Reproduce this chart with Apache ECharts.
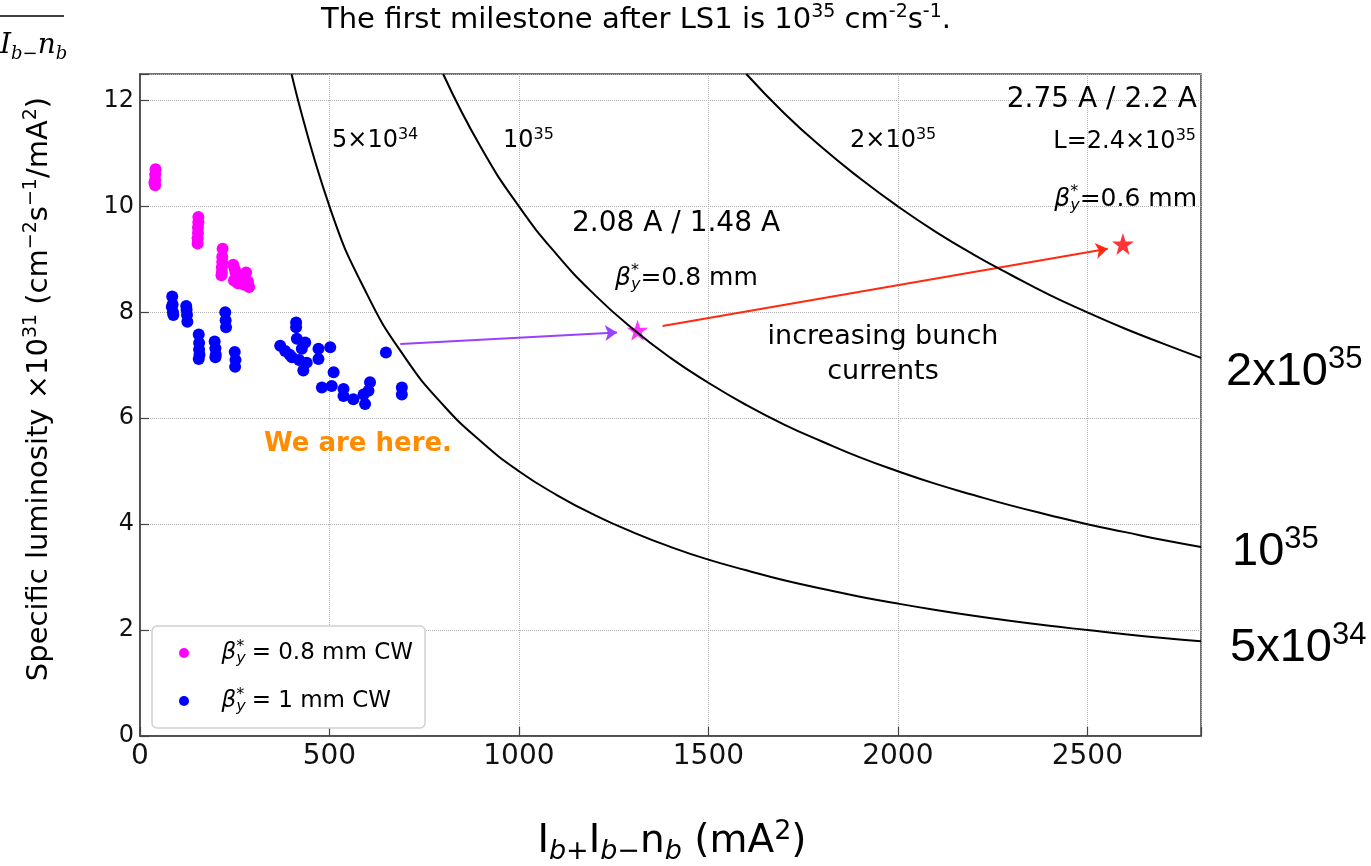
<!DOCTYPE html>
<html>
<head>
<meta charset="utf-8">
<script src="https://cdn.jsdelivr.net/npm/echarts@6/dist/echarts.min.js"></script>
<style>
html, body { margin: 0; padding: 0; background: #fff; }
#chart { width: 1371px; height: 866px; }
</style>
</head>
<body>
<div id="chart"></div>
<script>
// measured points, beta*y = 0.8 mm CW
const pinkPoints = [
  [38, 10.45], [40, 10.4], [40, 10.5], [40, 10.6], [41, 10.7],
  [152, 9.3], [152, 9.4], [153, 9.5], [153, 9.6], [154, 9.7], [154, 9.8],
  [215, 8.7], [216, 8.75], [216, 8.85], [217, 8.95], [218, 9.2], [217, 9.05],
  [246, 8.9], [248, 8.6], [252, 8.75], [258, 8.55], [262, 8.7], [268, 8.62],
  [275, 8.52], [280, 8.75], [285, 8.58], [288, 8.48], [250, 8.82]
];
// measured points, beta*y = 1 mm CW
const bluePoints = [
  [85, 8.3], [86, 8.15], [87, 8.0], [88, 7.95], [84, 8.1],
  [122, 8.12], [124, 7.95], [125, 7.82], [123, 8.05],
  [155, 7.58], [156, 7.42], [156, 7.3], [157, 7.2], [155, 7.12],
  [197, 7.45], [199, 7.32], [200, 7.2], [199, 7.15],
  [225, 8.0], [226, 7.85], [227, 7.72],
  [250, 7.25], [252, 7.1], [251, 6.97],
  [412, 7.81], [412, 7.72], [370, 7.37], [383, 7.27], [401, 7.15],
  [414, 7.5], [427, 7.31], [436, 7.43], [431, 6.9], [440, 7.05],
  [471, 7.31], [471, 7.12], [502, 7.34], [395, 7.2], [420, 7.1],
  [480, 6.58], [511, 6.87], [506, 6.61], [537, 6.55], [537, 6.42],
  [563, 6.36], [590, 6.45], [594, 6.27], [607, 6.68], [603, 6.52],
  [649, 7.24], [691, 6.58], [691, 6.45]
];
const pinkStar = [[1313, 7.66]];
const redStar = [[2594, 9.29]];

// constant luminosity curves (every 100 mA^2)
const curveX5e34 = [400, 500, 600, 700, 800, 900, 1000, 1100, 1200, 1300, 1400, 1500, 1600, 1700, 1800, 1900, 2000, 2100, 2200, 2300, 2400, 2500, 2600, 2700, 2800];
const curveY5e34 = [12.5, 10.0, 8.33, 7.14, 6.25, 5.56, 5.0, 4.55, 4.17, 3.85, 3.57, 3.33, 3.13, 2.94, 2.78, 2.63, 2.5, 2.38, 2.27, 2.17, 2.08, 2.0, 1.92, 1.85, 1.79];
const curveX1e35 = [800, 900, 1000, 1100, 1200, 1300, 1400, 1500, 1600, 1700, 1800, 1900, 2000, 2100, 2200, 2300, 2400, 2500, 2600, 2700, 2800];
const curveY1e35 = [12.5, 11.11, 10.0, 9.09, 8.33, 7.69, 7.14, 6.67, 6.25, 5.88, 5.56, 5.26, 5.0, 4.76, 4.55, 4.35, 4.17, 4.0, 3.85, 3.70, 3.57];
const curveX2e35 = [1600, 1700, 1800, 1900, 2000, 2100, 2200, 2300, 2400, 2500, 2600, 2700, 2800];
const curveY2e35 = [12.5, 11.76, 11.11, 10.53, 10.0, 9.52, 9.09, 8.70, 8.33, 8.0, 7.69, 7.41, 7.14];

// arrows: [start, end]
const purpleArrow = [[687, 7.40], [1259, 7.62]];
const redArrow = [[1379, 7.74], [2554, 9.20]];

const xTicks = [0, 500, 1000, 1500, 2000, 2500];
const yTicks = [0, 2, 4, 6, 8, 10, 12];

const F = 'DejaVu Sans';
const STAR = 'path://M50,0 L61.8,35.3 L98.9,35.3 L69,57.3 L79.4,92.7 L50,71 L20.6,92.7 L31,57.3 L1.1,35.3 L38.2,35.3 Z';

const zip = (xs, ys) => xs.map((x, i) => [x, ys[i]]);

// rich text presets
function rs(size, family, opts) {
  opts = opts || {};
  const c = opts.color || '#000';
  const w = opts.weight || 'normal';
  const sup = Math.round(size * (opts.supScale || 0.65));
  return {
    n: { fontSize: size, fontFamily: family, fill: c, color: c, fontWeight: w, lineHeight: Math.round(size * 1.2), align: 'left' },
    i: { fontSize: size, fontFamily: family, fill: c, color: c, fontStyle: 'italic', lineHeight: Math.round(size * 1.2), align: 'left' },
    s: { fontSize: sup, fontFamily: family, fill: c, color: c, verticalAlign: 'top', lineHeight: sup, align: 'left' },
    st: { fontSize: sup, fontFamily: family, fill: c, color: c, verticalAlign: 'top', lineHeight: sup, width: 0, align: 'left' },
    b: { fontSize: sup, fontFamily: family, fill: c, color: c, fontStyle: 'italic', verticalAlign: 'bottom', lineHeight: sup, align: 'left' }
  };
}

function label(x, y, text, size, align, vAlign, opts) {
  opts = opts || {};
  return {
    type: 'text', x: x, y: y, rotation: opts.rotation || 0, z: 20,
    style: {
      text: text, rich: rs(size, opts.family || F, opts),
      textAlign: align, textVerticalAlign: vAlign,
      align: align, verticalAlign: vAlign
    }
  };
}

const chart = echarts.init(document.getElementById('chart'));

chart.setOption({
  animation: false,
  backgroundColor: '#fff',
  grid: { left: 140, right: 170, top: 74, bottom: 130, show: true, borderColor: '#444', borderWidth: 1.5 },
  xAxis: {
    type: 'value', min: 0, max: 2800, interval: 500,
    axisLine: { show: true, lineStyle: { color: '#444', width: 1.5 } },
    axisTick: { show: true, inside: true, length: 9, lineStyle: { color: '#444', width: 1.2 } },
    axisLabel: {
      fontFamily: F, fontSize: 28, color: '#111', margin: 7, showMinLabel: true,
      formatter: v => xTicks.indexOf(v) >= 0 ? String(v) : ''
    },
    splitLine: { show: true, lineStyle: { type: 'dotted', color: '#b0b0b0', width: 1 } }
  },
  yAxis: {
    type: 'value', min: 0, max: 12.5, interval: 2,
    axisLine: { show: true, lineStyle: { color: '#444', width: 1.5 } },
    axisTick: { show: true, inside: true, length: 9, lineStyle: { color: '#444', width: 1.2 } },
    axisLabel: {
      fontFamily: F, fontSize: 24, color: '#111', margin: 6, showMinLabel: true,
      formatter: v => yTicks.indexOf(v) >= 0 ? String(v) : ''
    },
    splitLine: { show: true, lineStyle: { type: 'dotted', color: '#b0b0b0', width: 1 } }
  },
  legend: {
    orient: 'vertical', left: 152, top: 626,
    data: ['b08', 'b1'],
    icon: 'circle', itemWidth: 65, itemHeight: 10, itemGap: 20,
    padding: [13, 12, 13, 27],
    backgroundColor: '#fff', borderColor: '#d0d0d0', borderWidth: 1.5, borderRadius: 5,
    formatter: name => name === 'b08'
      ? '{g|β}{st|*}{b|y}{n|= 0.8 mm CW}'
      : '{g|β}{st|*}{b|y}{n|= 1 mm CW}',
    textStyle: {
      fontFamily: F, fontSize: 23, color: '#000',
      rich: {
        n: { fontFamily: F, fontSize: 23, color: '#000', lineHeight: 28 },
        g: { fontFamily: F, fontSize: 23, color: '#000', fontStyle: 'italic', lineHeight: 28 },
        st: { fontFamily: F, fontSize: 16, color: '#000', verticalAlign: 'top', lineHeight: 16, width: 0, align: 'left' },
        b: { fontFamily: F, fontSize: 16, color: '#000', fontStyle: 'italic', verticalAlign: 'bottom', lineHeight: 16, padding: [0, 6, 0, 0] }
      }
    }
  },
  series: [
    {
      name: 'b1', type: 'scatter', data: bluePoints, symbolSize: 12, z: 3,
      itemStyle: { color: '#0000ff', opacity: 1 }
    },
    {
      name: 'b08', type: 'scatter', data: pinkPoints, symbolSize: 12, z: 3,
      itemStyle: { color: '#ff00ff', opacity: 1 }
    },
    {
      name: 'star08', type: 'scatter', data: pinkStar, symbol: STAR, symbolSize: 21, z: 4,
      itemStyle: { color: '#ff00ff' }
    },
    {
      name: 'star06', type: 'scatter', data: redStar, symbol: STAR, symbolSize: 22, z: 4,
      itemStyle: { color: '#ff0000' },
      markLine: {
        silent: true, symbol: ['none', 'arrow'], symbolSize: 12,
        label: { show: false },
        data: [
          [{ coord: purpleArrow[0], lineStyle: { color: '#9a40ff', width: 2, type: 'solid' }, itemStyle: { color: '#9a40ff' } },
           { coord: purpleArrow[1] }],
          [{ coord: redArrow[0], lineStyle: { color: '#ff2a10', width: 2, type: 'solid' }, itemStyle: { color: '#ff2a10' } },
           { coord: redArrow[1] }]
        ]
      }
    },
    {
      name: 'L5e34', type: 'line', data: zip(curveX5e34, curveY5e34), showSymbol: false, z: 5,
      smooth: 0.5, lineStyle: { color: '#000', width: 2 }, itemStyle: { color: '#000' }
    },
    {
      name: 'L1e35', type: 'line', data: zip(curveX1e35, curveY1e35), showSymbol: false, z: 5,
      smooth: 0.5, lineStyle: { color: '#000', width: 2 }, itemStyle: { color: '#000' }
    },
    {
      name: 'L2e35', type: 'line', data: zip(curveX2e35, curveY2e35), showSymbol: false, z: 5,
      smooth: 0.5, lineStyle: { color: '#000', width: 2 }, itemStyle: { color: '#000' }
    }
  ],
  graphic: [
    // title
    label(636, 20, '{n|The first milestone after LS1 is 10}{s|35}{n| cm}{s|-2}{n|s}{s|-1}{n|.}', 29, 'center', 'middle'),
    // cut-off fraction in the top-left corner
    label(12, 6, '{i|L}', 34, 'left', 'bottom', { family: 'DejaVu Serif' }),
    { type: 'line', z: 20, shape: { x1: 0, y1: 16, x2: 64, y2: 16 }, style: { stroke: '#000', lineWidth: 1.5 } },
    label(0, 46, '{i|I}{b|b−}{i|n}{b|b}', 28, 'left', 'middle', { family: 'DejaVu Serif' }),
    // axis names
    label(39, 389, '{n|Specific luminosity ×10}{s|31}{n| (cm}{s|−2}{n|s}{s|−1}{n|/mA}{s|2}{n|)}', 29, 'center', 'middle', { rotation: Math.PI / 2 }),
    label(672, 842, '{n|I}{b|b+}{n|I}{b|b−}{n|n}{b|b}{n| (mA}{s|2}{n|)}', 39, 'center', 'middle', { supScale: 0.7 }),
    // curve names inside the plot
    label(332, 141, '{n|5×10}{s|34}', 24, 'left', 'middle'),
    label(503, 141, '{n|10}{s|35}', 24, 'left', 'middle'),
    label(850, 141, '{n|2×10}{s|35}', 24, 'left', 'middle'),
    // target annotations
    label(1197, 100, '{n|2.75 A / 2.2 A}', 28, 'right', 'middle'),
    label(1196, 142, '{n|L=2.4×10}{s|35}', 24, 'right', 'middle'),
    label(1197, 199, '{i|β}{st|*}{b|y}{n|=0.6 mm}', 25, 'right', 'middle'),
    label(572, 224, '{n|2.08 A / 1.48 A}', 28, 'left', 'middle'),
    label(615, 278, '{i|β}{st|*}{b|y}{n|=0.8 mm}', 25, 'left', 'middle'),
    label(883, 337, '{n|increasing bunch}', 27, 'center', 'middle'),
    label(883, 372, '{n|currents}', 27, 'center', 'middle'),
    label(264, 444, '{n|We are here.}', 26, 'left', 'middle', { color: '#ff8c00', weight: 'bold' }),
    // curve names outside the plot
    label(1226, 372, '{n|2x10}{s|35}', 47, 'left', 'middle', { family: 'Liberation Sans' }),
    label(1232, 552, '{n|10}{s|35}', 47, 'left', 'middle', { family: 'Liberation Sans' }),
    label(1230, 648, '{n|5x10}{s|34}', 47, 'left', 'middle', { family: 'Liberation Sans' })
  ]
});
</script>
</body>
</html>
